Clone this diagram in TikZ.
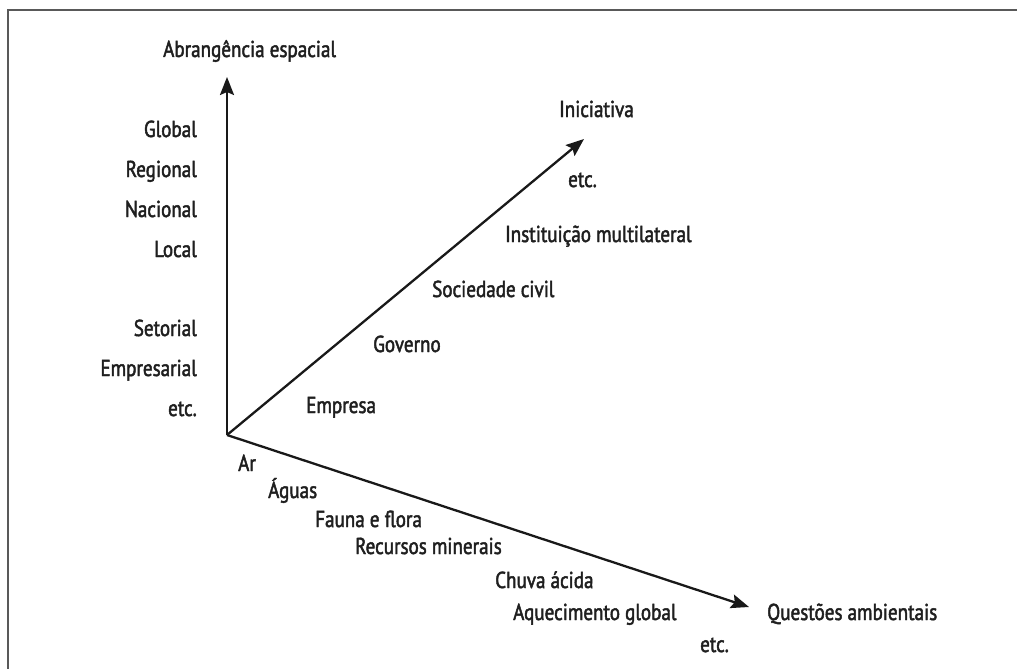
\documentclass[tikz,border=0pt]{standalone}
\usepackage{fontspec}
\setmainfont[FakeStretch=0.83, FakeBold=2]{PT Sans}
\usetikzlibrary{arrows.meta, positioning}

\begin{document}
\begin{tikzpicture}[
    x=1pt, y=1pt,
    rotulo/.style={inner sep=0pt, anchor=base west, font=\fontsize{23}{27}\selectfont, text=black!88},
    rotuloesq/.style={rotulo, anchor=base east},
    eixo/.style={-{Stealth[length=18pt, width=14pt, inset=3pt]}, line width=2.3pt, black!90}
]
\useasboundingbox (0,0) rectangle (1017,-669);

% Moldura
\draw[black!65, line width=2pt] (8,-669) -- (8,-10) -- (1017,-10);

% Eixos
\coordinate (origem) at (227,-435);
\coordinate (topo) at (227,-77);
\coordinate (diag) at (584,-139);
\coordinate (baixo) at (749,-607);

% Abrangencia espacial (eixo vertical)
\node[rotulo] (abr) at (163,-57) {Abrangência espacial};
\node[rotuloesq] (global) at (197,-137) {Global};
\node[rotuloesq] (regional) at (197,-177) {Regional};
\node[rotuloesq] (nacional) at (197,-217) {Nacional};
\node[rotuloesq] (local) at (197,-257) {Local};
\node[rotuloesq] (setorial) at (197,-336) {Setorial};
\node[rotuloesq] (empresarial) at (197,-376) {Empresarial};
\node[rotuloesq] (etcv) at (197,-416) {etc.};

% Iniciativa (eixo diagonal)
\node[rotulo] (inic) at (559,-117) {Iniciativa};
\node[rotulo] (etcd) at (568,-187) {etc.};
\node[rotulo] (inst) at (505,-242) {Instituição multilateral};
\node[rotulo] (soc) at (432,-297) {Sociedade civil};
\node[rotulo] (gov) at (373,-352) {Governo};
\node[rotulo] (emp) at (306,-413) {Empresa};

% Questoes ambientais (eixo inferior)
\node[rotulo] (ar) at (238,-471) {Ar};
\node[rotulo] (aguas) at (268,-498) {Águas};
\node[rotulo] (fauna) at (315,-527) {Fauna e flora};
\node[rotulo] (recursos) at (355,-554) {Recursos minerais};
\node[rotulo] (chuva) at (495,-588) {Chuva ácida};
\node[rotulo] (aquec) at (513,-620) {Aquecimento global};
\node[rotulo] (quest) at (767,-620) {Questões ambientais};
\node[rotulo] (etcb) at (700,-652) {etc.};

% Setas
\draw[eixo] (origem) -- (topo);
\draw[eixo] (origem) -- (diag);
\draw[eixo] (origem) -- (baixo);

\end{tikzpicture}
\end{document}
